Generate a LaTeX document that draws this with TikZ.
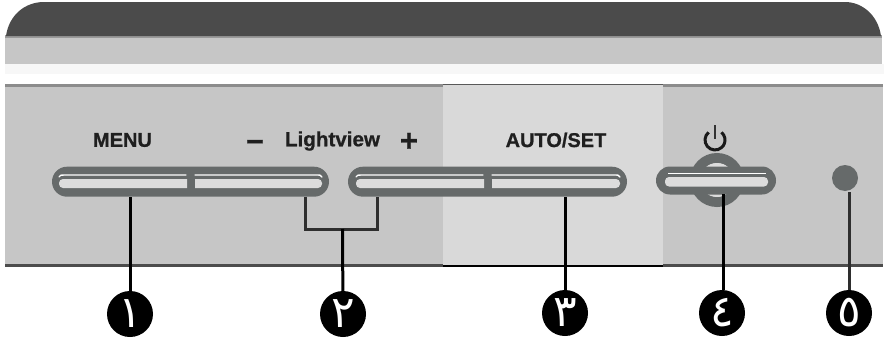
\documentclass[tikz,border=0pt]{standalone}
\usepackage{fontspec}
\setmainfont{Liberation Sans}[BoldFeatures={FakeBold=0.8}]
\newfontfamily\arabicfont[Script=Arabic]{DejaVu Sans}
\TeXXeTstate=1
\usetikzlibrary{shapes.misc}
\definecolor{bandgray}{HTML}{C6C6C6}
\definecolor{darktop}{HTML}{4B4B4B}
\definecolor{btngray}{HTML}{666A6A}
\definecolor{lightbox}{HTML}{D9D9D9}
\definecolor{slotgray}{HTML}{DCDCDC}
\definecolor{bracketgray}{HTML}{2E2E2E}
\tikzset{
  btn/.style={rounded rectangle,fill=btngray,inner sep=0pt,minimum height=30pt},
  label/.style={font=\bfseries\fontsize{20}{22}\selectfont,text=black!88,inner sep=0pt},
  signlabel/.style={font=\bfseries\fontsize{31}{33}\selectfont,text=black!88,inner sep=0pt},
  callout/.style={circle,fill=black,inner sep=0pt,minimum size=46pt,text=white,font=\arabicfont\fontsize{44}{46}\selectfont},
  lead/.style={draw=black,line width=3pt},
  leadsoft/.style={draw=bracketgray,line width=3pt},
  slotfill/.style={fill=slotgray},
  slotline/.style={draw=white,line width=1.4pt,line cap=round},
}
\begin{document}
\begin{tikzpicture}[x=1pt,y=-1pt]
\path[use as bounding box,fill=white] (0,0) rectangle (884,340);
% top casing
\fill[bandgray] (5,35) rectangle (882,64);
\fill[black!40] (5,35) rectangle (882,38);
\fill[darktop] (6,36) .. controls (9,15) and (25,2) .. (44,2) -- (845,2) .. controls (862,2) and (878,15) .. (881,36) -- cycle;
\fill[black!3] (5,64) rectangle (884,74);
% panel
\fill[bandgray] (5,84) rectangle (883,265);
\fill[lightbox] (443,84) rectangle (663,265);
\fill[black!45] (5,84) rectangle (443,86.5);
\fill[black!45] (663,84) rectangle (883,86.5);
\fill[black!65] (443,84) rectangle (663,85);
\fill[black!70] (5,264) rectangle (443,266.5);
\fill[black!70] (663,264) rectangle (883,266.5);
\fill[black] (443,264.5) rectangle (663,266.5);
% labels
\node[label] (menu) at (122.5,140) {MENU};
\node[signlabel] (minus) at (255,145) {–};
\node[label,font=\bfseries\fontsize{20.6}{22}\selectfont] (lightview) at (332.5,141) {Lightview};
\node[signlabel] (plus) at (409,142) {+};
\node[label] (autoset) at (556,140) {AUTO/SET};
% power symbol
\draw[line width=3pt,black!90] (708.6,132.3) arc[start angle=130,end angle=410,radius=10pt];
\draw[line width=2.6pt,black!80] (715,125) -- (715,139);
% power button ring
\draw[btngray,line width=10pt] (717,180) circle[radius=22pt];
\fill[slotgray] (717,180) circle[radius=17pt];
% buttons
\node[btn,minimum width=277pt] (b1) at (190.5,181.7) {};
\node[btn,minimum width=279pt] (b2) at (487.5,181.7) {};
\node[btn,minimum width=120pt,minimum height=28pt] (b3) at (716,180.5) {};
\node[circle,fill=btngray,minimum size=26pt,inner sep=0pt] (led) at (845,178) {};
% slots
\fill[slotfill] (187,179) [rounded corners=4] -- (59,179) -- (59,188) [sharp corners] -- (187,188) -- cycle;
\fill[slotfill] (195,179) [rounded corners=4] -- (322,179) -- (322,188) [sharp corners] -- (195,188) -- cycle;
\fill[slotfill] (484,179) [rounded corners=4] -- (356,179) -- (356,188) [sharp corners] -- (484,188) -- cycle;
\fill[slotfill] (492,179) [rounded corners=4] -- (620,179) -- (620,188) [sharp corners] -- (492,188) -- cycle;
\fill[slotfill,rounded corners=4] (665,177) rectangle (768,186.5);
\draw[slotline] (59,177) .. controls (60,175) and (61,175) .. (64,175) -- (186,175);
\draw[slotline] (195,175) -- (316,175) .. controls (320,175) and (321,175) .. (322,177);
\draw[slotline] (356,177) .. controls (357,175) and (358,175) .. (361,175) -- (483,175);
\draw[slotline] (492,175) -- (614,175) .. controls (618,175) and (619,175) .. (620,177);
\draw[draw=white,line width=1pt] (668,173) -- (766,173);
% callouts
\node[callout] (n1) at (130,314) {\beginR ١\endR};
\node[callout] (n2) at (343,314) {\beginR ٢\endR};
\node[callout] (n3) at (565,313) {\beginR ٣\endR};
\node[callout] (n4) at (722,313) {\beginR ٤\endR};
\node[callout] (n5) at (849,313) {\beginR ٥\endR};
% connectors
\coordinate (j2) at (342.5,229);
\coordinate (j2l) at (305.5,229);
\coordinate (j2r) at (377,229);
\draw[lead] (n1) -- (n1 |- b1.south);
\draw[leadsoft,line join=miter] (b1.south -| j2l) -- (j2l) -- (j2r) -- (b2.south -| j2r);
\draw[lead] (n2) -- (j2);
\draw[lead] (n3) -- (n3 |- b2.south);
\draw[lead] (n4.north -| 723,0) -- (723,194);
\draw[leadsoft] (n5.north -| 849.5,0) -- (849.5,192);
\end{tikzpicture}
\end{document}
